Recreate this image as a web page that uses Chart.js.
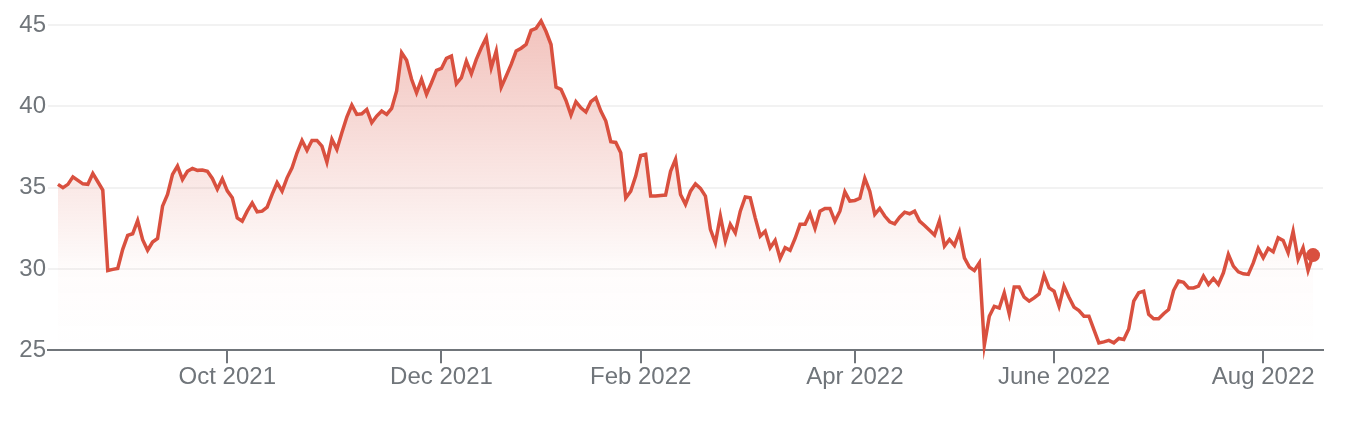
<!DOCTYPE html>
<html>
<head>
<meta charset="utf-8">
<script src="https://cdn.jsdelivr.net/npm/chart.js@4.4.0/dist/chart.umd.min.js"></script>
<style>
    html, body { margin: 0; padding: 0; background: #ffffff; }
</style>
</head>
<body>
<canvas id="price-chart" width="1356" height="438"></canvas>
<script>
// Daily closing prices, Aug 2021 - Aug 2022
const prices = [
    35.2, 35.0, 35.2, 35.66, 35.44, 35.23, 35.2, 35.87, 35.36, 34.85,
    29.9, 29.97, 30.03, 31.2, 32.06, 32.16, 32.98, 31.8, 31.15, 31.65,
    31.87, 33.86, 34.58, 35.81, 36.32, 35.5, 36.0, 36.18, 36.06, 36.08,
    36.0, 35.56, 34.9, 35.54, 34.8,
    34.37, 33.14, 32.94, 33.55, 34.06, 33.51, 33.55, 33.8, 34.58, 35.3,
    34.78, 35.6, 36.22, 37.14, 37.9, 37.29, 37.9, 37.9, 37.55, 36.57,
    37.97, 37.35, 38.37, 39.34, 40.08, 39.5, 39.54, 39.81, 38.99, 39.4,
    39.71, 39.5, 39.87, 40.94, 43.3, 42.83,
    41.66, 40.83, 41.66, 40.74, 41.45, 42.21, 42.33, 42.95, 43.09, 41.39,
    41.76, 42.78, 42.0, 42.89, 43.6, 44.22, 42.37, 43.4, 41.18, 41.86,
    42.58, 43.4, 43.57, 43.81, 44.67, 44.8, 45.25, 44.6, 43.8, 41.18,
    41.04, 40.36, 39.46, 40.28, 39.91, 39.65,
    40.28, 40.52, 39.71, 39.09, 37.82, 37.78, 37.14, 34.37, 34.78, 35.71,
    36.98, 37.04, 34.48, 34.48, 34.52, 34.54, 36.0, 36.74, 34.58, 33.97,
    34.78, 35.23, 34.95, 34.48, 32.43, 31.6, 33.25, 31.71, 32.74, 32.22,
    33.55, 34.42, 34.37, 33.14, 32.02, 32.32,
    31.3, 31.75, 30.64, 31.3, 31.14, 31.87, 32.74, 32.74, 33.39, 32.49,
    33.55, 33.72, 33.72, 32.94, 33.55, 34.74, 34.17, 34.21, 34.34, 35.57,
    34.78, 33.35, 33.72, 33.25, 32.9, 32.77, 33.18, 33.49, 33.39, 33.55,
    32.94, 32.67, 32.38, 32.08, 32.98, 31.4, 31.81,
    31.44, 32.26, 30.68, 30.11, 29.9, 30.37, 25.3, 27.09, 27.7, 27.6,
    28.53, 27.24, 28.88, 28.88, 28.26, 28.02, 28.22, 28.46, 29.62, 28.83,
    28.63, 27.7, 28.94, 28.26, 27.65, 27.44, 27.09, 27.09, 26.27, 25.45,
    25.51, 25.6, 25.45, 25.72, 25.66,
    26.3, 28.02, 28.53, 28.63, 27.2, 26.93, 26.93, 27.24, 27.5, 28.67,
    29.25, 29.18, 28.83, 28.83, 28.94, 29.55, 29.04, 29.41, 29.04, 29.76,
    30.89, 30.17, 29.82, 29.7, 29.66, 30.37, 31.26, 30.68, 31.26, 31.05,
    31.91, 31.75, 30.99, 32.32, 30.58, 31.3, 29.9, 30.85
];

// Month tick positions (trading-day index) and their labels
const tickIndex = [34, 77, 117, 160, 200, 242];
const tickLabels = ['Oct 2021', 'Dec 2021', 'Feb 2022', 'Apr 2022', 'June 2022', 'Aug 2022'];

const yMin = 25;
const yMax = 45;
const yStep = 5;

const lineColor = '#d9503f';
const textColor = '#70757a';

document.addEventListener('DOMContentLoaded', function() {
    initChart();
});

function initChart() {
    const ctx = document.getElementById('price-chart').getContext('2d');

    const points = prices.map((p, i) => ({ x: i, y: p }));
    const radii = prices.map((p, i) => i === prices.length - 1 ? 7 : 0);

    new Chart(ctx, {
        type: 'line',
        data: {
            datasets: [{
                data: points,
                borderColor: lineColor,
                borderWidth: 3.5,
                tension: 0,
                pointRadius: radii,
                pointBackgroundColor: lineColor,
                pointBorderWidth: 0,
                pointHoverRadius: 0,
                clip: false,
                fill: 'start',
                backgroundColor: function(context) {
                    const area = context.chart.chartArea;
                    if (!area) return 'rgba(217, 80, 63, 0.1)';
                    const g = context.chart.ctx.createLinearGradient(0, area.top, 0, area.bottom);
                    g.addColorStop(0, 'rgba(217, 80, 63, 0.34)');
                    g.addColorStop(0.75, 'rgba(217, 80, 63, 0.02)');
                    g.addColorStop(1, 'rgba(217, 80, 63, 0)');
                    return g;
                }
            }]
        },
        options: {
            responsive: false,
            animation: false,
            devicePixelRatio: 1,
            layout: {
                padding: { top: 25, right: 33, bottom: 46, left: 0 }
            },
            plugins: {
                legend: { display: false },
                tooltip: { enabled: false }
            },
            scales: {
                x: {
                    type: 'linear',
                    min: -2,
                    max: 254,
                    afterBuildTicks: function(scale) {
                        scale.ticks = tickIndex.map(v => ({ value: v }));
                    },
                    grid: {
                        drawOnChartArea: false,
                        drawTicks: true,
                        tickLength: 13,
                        color: textColor,
                        lineWidth: 2
                    },
                    border: {
                        display: true,
                        color: textColor,
                        width: 2
                    },
                    ticks: {
                        autoSkip: false,
                        maxRotation: 0,
                        padding: 0,
                        color: textColor,
                        font: { family: 'Liberation Sans, Arial, sans-serif', size: 24 },
                        callback: function(value) {
                            const k = tickIndex.indexOf(value);
                            return k >= 0 ? tickLabels[k] : '';
                        }
                    }
                },
                y: {
                    min: yMin,
                    max: yMax,
                    afterFit: function(scale) {
                        scale.width = 48;
                    },
                    grid: {
                        drawTicks: false,
                        color: '#f2f2f2',
                        lineWidth: 2
                    },
                    border: { display: false },
                    ticks: {
                        stepSize: yStep,
                        padding: 2,
                        color: textColor,
                        font: { family: 'Liberation Sans, Arial, sans-serif', size: 24 }
                    }
                }
            }
        }
    });
}
</script>
</body>
</html>
